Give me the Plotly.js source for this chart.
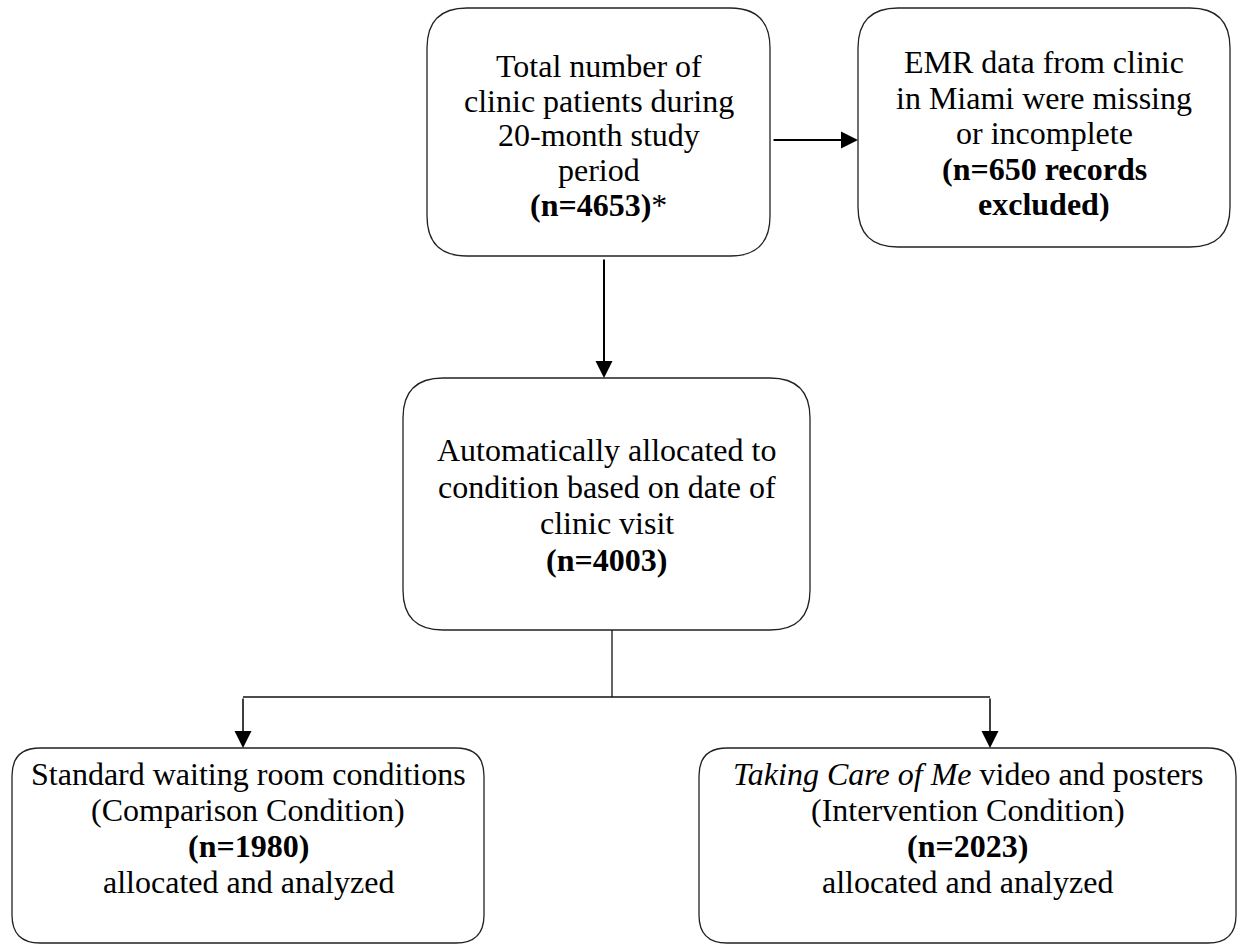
<!DOCTYPE html>
<html>
<head>
<meta charset="utf-8">
<script src="https://cdn.plot.ly/plotly-3.0.1.min.js"></script>
<style>html,body{margin:0;padding:0;background:#fff;} #chart{width:1239px;height:945px;}</style>
</head>
<body>
<div id="chart"></div>
<script>
// ---- data ----
const counts = [4653, 650, 4003, 1980, 2023];
const totalLines = ["Total number of", "clinic patients during", "20-month study", "period"];
const excludedLines = ["EMR data from clinic", "in Miami were missing", "or incomplete"];
const excludedSuffix = [" records", "excluded)"];
const allocatedLines = ["Automatically allocated to", "condition based on date of", "clinic visit"];
const comparisonLines = ["Standard waiting room conditions", "(Comparison Condition)"];
const interventionLines = ["<i>Taking Care of Me</i> video and posters", "(Intervention Condition)"];
const analyzedLine = "allocated and analyzed";

// ---- layout / geometry (pixels) ----
const boxes = [
  {x0: 427, x1: 770, y0: 8, y1: 256, r: 40, firstY: 66, step: 34.7,
   lines: totalLines.map(t => ({t: t})).concat([{t: "<b>(n=" + counts[0] + ")</b>*"}])},
  {x0: 858, x1: 1230, y0: 8, y1: 247, r: 40, firstY: 62, step: 35.5,
   lines: excludedLines.map(t => ({t: t})).concat([{t: "<b>(n=" + counts[1] + excludedSuffix[0] + "</b>"}, {t: "<b>" + excludedSuffix[1] + "</b>"}])},
  {x0: 403, x1: 810, y0: 378, y1: 630, r: 40, firstY: 450, step: 36.7,
   lines: allocatedLines.map(t => ({t: t})).concat([{t: "<b>(n=" + counts[2] + ")</b>"}])},
  {x0: 12, x1: 484, y0: 748, y1: 943, r: 28, firstY: 774, step: 36,
   lines: comparisonLines.map(t => ({t: t})).concat([{t: "<b>(n=" + counts[3] + ")</b>"}, {t: analyzedLine}])},
  {x0: 699, x1: 1236, y0: 748, y1: 943, r: 28, firstY: 774, step: 36,
   lines: interventionLines.map(t => ({t: t})).concat([{t: "<b>(n=" + counts[4] + ")</b>"}, {t: analyzedLine}])}
];

const FONT = "Liberation Serif, Times New Roman, serif";
const shapes = [];
const annotations = [];

function roundRect(b) {
  const {x0, x1, y0, y1, r} = b;
  return `M ${x0 + r},${y0} L ${x1 - r},${y0} Q ${x1},${y0} ${x1},${y0 + r} ` +
         `L ${x1},${y1 - r} Q ${x1},${y1} ${x1 - r},${y1} L ${x0 + r},${y1} ` +
         `Q ${x0},${y1} ${x0},${y1 - r} L ${x0},${y0 + r} Q ${x0},${y0} ${x0 + r},${y0} Z`;
}

boxes.forEach(b => {
  shapes.push({type: "path", xref: "x", yref: "y", path: roundRect(b),
               line: {color: "#222", width: 1.3}, fillcolor: "rgba(0,0,0,0)"});
  const cx = (b.x0 + b.x1) / 2;
  b.lines.forEach((ln, i) => {
    annotations.push({x: cx, y: b.firstY + i * b.step, xref: "x", yref: "y",
      text: ln.t, showarrow: false, xanchor: "center", yanchor: "middle",
      font: {family: FONT, size: 32, color: "#000"}});
  });
});

// connectors
const connectors = [
  {x0: 612, y0: 630, x1: 612, y1: 697, w: 1.3},
  {x0: 243, y0: 697, x1: 990, y1: 697, w: 1.3}
];
connectors.forEach(c => shapes.push({type: "line", xref: "x", yref: "y",
  x0: c.x0, y0: c.y0, x1: c.x1, y1: c.y1, line: {color: "#111", width: c.w}}));

const arrows = [
  {fx: 772, fy: 140, tx: 858, ty: 140, w: 2},
  {fx: 604, fy: 258, tx: 604, ty: 378, w: 2},
  {fx: 243, fy: 697, tx: 243, ty: 748, w: 1.5},
  {fx: 990, fy: 697, tx: 990, ty: 748, w: 1.5}
];
arrows.forEach(a => annotations.push({x: a.tx, y: a.ty, ax: a.fx, ay: a.fy,
  xref: "x", yref: "y", axref: "x", ayref: "y", text: "", showarrow: true,
  arrowhead: 2, arrowsize: 1.7 * 2 / a.w, arrowwidth: a.w, arrowcolor: "#000",
  standoff: 0, startstandoff: 0}));

const layout = {
  width: 1239, height: 945,
  margin: {l: 0, r: 0, t: 0, b: 0, pad: 0},
  paper_bgcolor: "#fff", plot_bgcolor: "#fff",
  xaxis: {range: [0, 1239], visible: false, fixedrange: true},
  yaxis: {range: [945, 0], visible: false, fixedrange: true},
  showlegend: false,
  shapes: shapes,
  annotations: annotations
};

Plotly.newPlot("chart", [], layout, {displayModeBar: false, staticPlot: true});
</script>
</body>
</html>
